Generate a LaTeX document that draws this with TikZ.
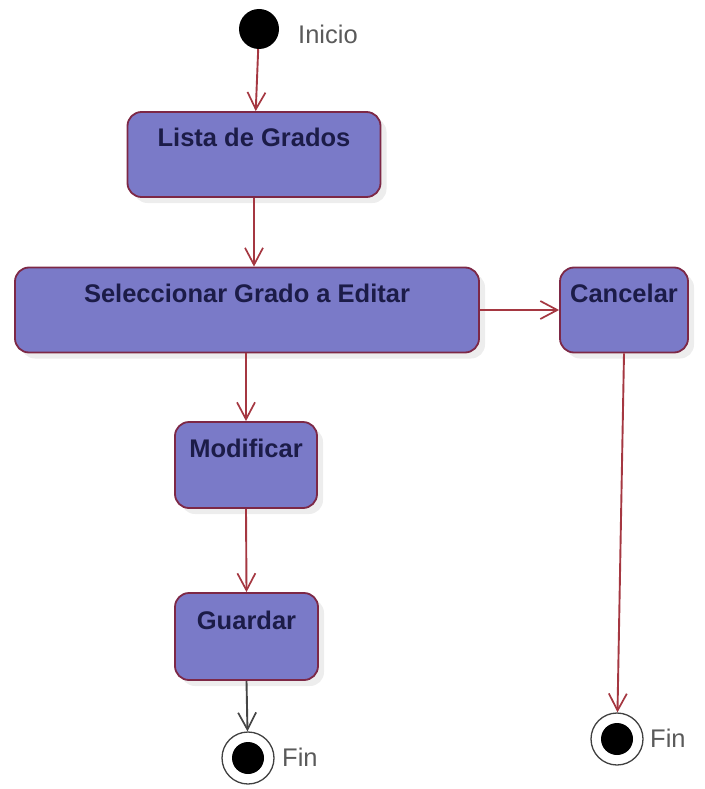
\documentclass[tikz,border=0pt]{standalone}
\usepackage{fontspec}
\setmainfont{Liberation Sans}
\usetikzlibrary{arrows.meta,shadows}
\definecolor{actfill}{RGB}{122,122,200}
\definecolor{actborder}{RGB}{125,40,70}
\definecolor{acttext}{RGB}{28,28,72}
\definecolor{flow}{RGB}{165,55,65}
\definecolor{flowdark}{RGB}{70,70,70}
\definecolor{note}{RGB}{90,90,90}
\begin{document}
\begin{tikzpicture}[x=1pt,y=-1pt,
  act/.style={draw=actborder, line width=1.8pt, fill=actfill, rounded corners=14pt,
    inner sep=0pt, rectangle,
    drop shadow={shadow xshift=6pt, shadow yshift=-6pt, fill=black, opacity=0.07}},
  acttxt/.style={anchor=base, inner sep=0pt, text=acttext,
    font=\fontsize{25.5}{30}\selectfont\bfseries},
  lbl/.style={anchor=base west, inner sep=0pt, text=note,
    font=\fontsize{25.5}{30}\selectfont},
  flowarrow/.style={draw=flow, line width=1.9pt,
    -{Straight Barb[length=17pt,width=18pt,line width=1.7pt]}},
  flowfinal/.style={flowarrow, draw=flowdark},
  startnode/.style={circle, fill=black, minimum size=40pt, inner sep=0pt},
  endnode/.style={circle, draw=black!75, line width=1.3pt, fill=white,
    minimum size=52pt, inner sep=0pt,
    path picture={\fill[black] (path picture bounding box.center) circle[radius=16pt];}}
]
\useasboundingbox (0,0) rectangle (704,789);

% initial state
\node[startnode] (start) at (259,29) {};
\node[lbl] (inicio) at (298,44) {Inicio};

% activities
\node[act, minimum width=253pt, minimum height=85pt] (lista) at (254,154.5) {};
\node[acttxt] (listatxt) at ([yshift=-35pt]lista.north) {Lista de Grados};

\node[act, minimum width=464pt, minimum height=85pt] (sel) at (247,310) {};
\node[acttxt] (seltxt) at ([yshift=-36pt]sel.north) {Seleccionar Grado a Editar};

\node[act, minimum width=128pt, minimum height=85pt] (canc) at (624,310) {};
\node[acttxt] (canctxt) at ([yshift=-36pt]canc.north) {Cancelar};

\node[act, minimum width=142pt, minimum height=86pt] (mod) at (246,465) {};
\node[acttxt] (modtxt) at ([yshift=-36pt]mod.north) {Modificar};

\node[act, minimum width=143pt, minimum height=87pt] (gua) at (246.5,636.5) {};
\node[acttxt] (guatxt) at ([yshift=-37pt]gua.north) {Guardar};

% final states
\node[endnode] (fin1) at (248,758) {};
\node[lbl] (fin1txt) at (282,766) {Fin};
\node[endnode] (fin2) at (617,739) {};
\node[lbl] (fin2txt) at (650,747) {Fin};

% control flow
\draw[flowarrow] (start) -- (lista);
\draw[flowarrow] (lista.south) -- (lista.south |- sel.north);
\draw[flowarrow] (mod.north |- sel.south) -- (mod.north);
\draw[flowarrow] (sel.east) -- (canc.west);
\draw[flowarrow] (mod.south) -- (gua.north);
\draw[flowfinal] (gua.south) -- (fin1);
\draw[flowarrow] (canc.south) -- (fin2);
\end{tikzpicture}
\end{document}
